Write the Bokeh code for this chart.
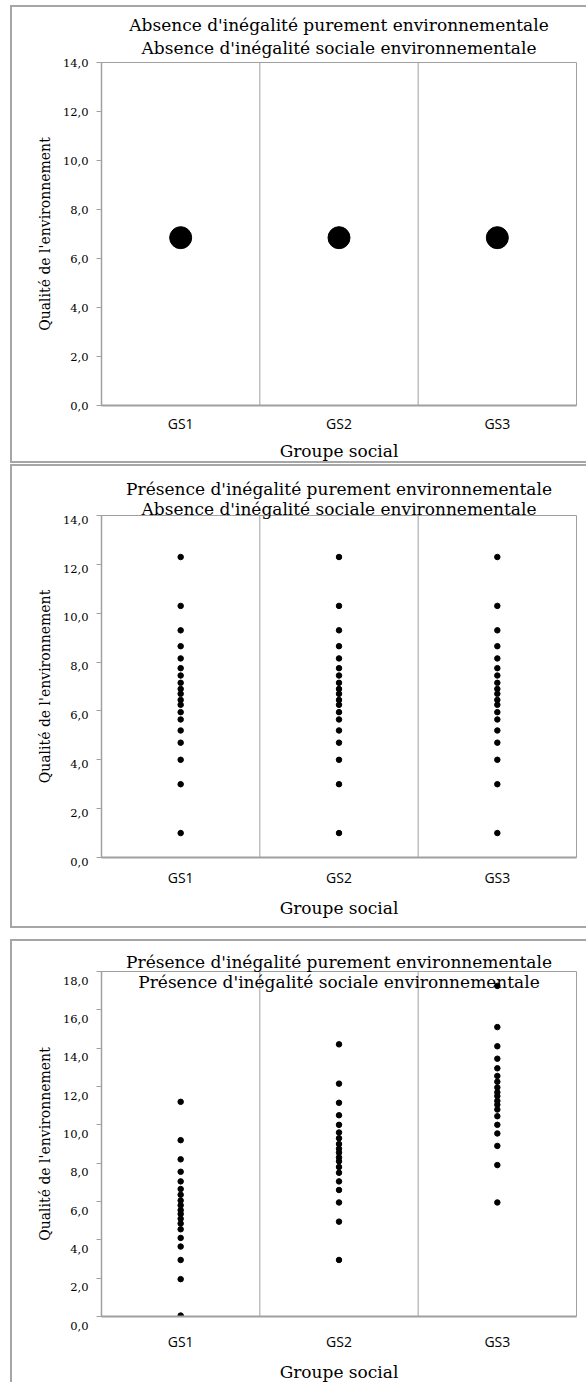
from bokeh.plotting import figure
from bokeh.layouts import column, row
from bokeh.models import FactorRange, Range1d, Span, Title, Label, FixedTicker, CustomJSTickFormatter, ColumnDataSource, Spacer
from bokeh.embed import file_html
from bokeh.resources import INLINE

groups = ["GS1", "GS2", "GS3"]

title_1 = ["Absence d'inégalité purement environnementale", "Absence d'inégalité sociale environnementale"]
title_2 = ["Présence d'inégalité purement environnementale", "Absence d'inégalité sociale environnementale"]
title_3 = ["Présence d'inégalité purement environnementale", "Présence d'inégalité sociale environnementale"]
y_title = "Qualité de l'environnement"
x_title = "Groupe social"

# Panel 1: one value per group
p1_values = [6.85, 6.85, 6.85]

# Panel 2: same spread in every group
p2_gs1 = [12.3, 10.3, 9.3, 8.65, 8.15, 7.75, 7.45, 7.15, 6.9, 6.7, 6.45, 6.25, 5.95, 5.65, 5.2, 4.7, 4.0, 3.0, 1.0]
p2_gs2 = [12.3, 10.3, 9.3, 8.65, 8.15, 7.75, 7.45, 7.15, 6.9, 6.7, 6.45, 6.25, 5.95, 5.65, 5.2, 4.7, 4.0, 3.0, 1.0]
p2_gs3 = [12.3, 10.3, 9.3, 8.65, 8.15, 7.75, 7.45, 7.15, 6.9, 6.7, 6.45, 6.25, 5.95, 5.65, 5.2, 4.7, 4.0, 3.0, 1.0]

# Panel 3: spread shifted by group
p3_gs1 = [11.2, 9.2, 8.2, 7.55, 7.05, 6.65, 6.35, 6.05, 5.8, 5.55, 5.35, 5.1, 4.85, 4.55, 4.1, 3.65, 2.95, 1.95, 0.05]
p3_gs2 = [14.2, 12.15, 11.15, 10.5, 10.0, 9.6, 9.3, 9.0, 8.75, 8.55, 8.3, 8.1, 7.8, 7.5, 7.05, 6.6, 5.95, 4.95, 2.95]
p3_gs3 = [17.25, 15.1, 14.1, 13.45, 12.95, 12.55, 12.25, 11.95, 11.7, 11.5, 11.25, 11.05, 10.8, 10.45, 10.0, 9.55, 8.9, 7.9, 5.95]

y_ticks_a = [0, 2, 4, 6, 8, 10, 12, 14]
y_ticks_b = [0, 2, 4, 6, 8, 10, 12, 14, 16, 18]

GRAY = "#a0a0a0"
BOX = "#a6a6a6"
SERIF = "DejaVu Serif"


def panel(titles, series, y_max, ticks, height, mb_top, mb_bottom, dot_size,
          standoffs, gs_standoff, lab_standoff, label_shift, bottom_border=True,
          inner_second_line=None):
    p = figure(width=576, height=height, x_range=FactorRange(*groups), title=None,
               y_range=Range1d(0, y_max), output_backend="svg", toolbar_location=None,
               min_border_left=89, min_border_right=12, min_border_top=mb_top,
               min_border_bottom=mb_bottom)
    borders = {"border-left": "2px solid " + BOX, "border-top": "2px solid " + BOX}
    if bottom_border:
        borders["border-bottom"] = "2px solid " + BOX
    p.styles = borders
    p.outline_line_color = GRAY
    p.outline_line_width = 1
    p.background_fill_color = "white"
    p.border_fill_color = "white"
    p.xgrid.visible = False
    p.ygrid.visible = False

    for loc in (1, 2):
        p.add_layout(Span(location=loc, dimension="height", line_color=GRAY, line_width=1))

    for g, vals in zip(groups, series):
        src = ColumnDataSource(dict(x=[g] * len(vals), y=vals))
        p.scatter("x", "y", source=src, size=dot_size, color="black")

    # y axis
    ya = p.yaxis[0]
    ya.ticker = FixedTicker(ticks=ticks)
    if label_shift is None:
        ya.formatter = CustomJSTickFormatter(code="return tick.toFixed(1).replace('.', ',');")
    else:
        ya.formatter = CustomJSTickFormatter(code="return '\\u00a0\\n' + tick.toFixed(1).replace('.', ',');")
        ya.major_label_text_line_height = label_shift
    ya.axis_line_color = GRAY
    ya.axis_line_width = 1.5
    ya.major_tick_line_color = GRAY
    ya.major_tick_out = 5
    ya.major_tick_in = 0
    ya.minor_tick_line_color = None
    ya.major_label_standoff = 8
    ya.major_label_text_font = SERIF
    ya.major_label_text_font_size = "11.5px"
    ya.major_label_text_color = "black"
    ya.axis_label = y_title
    ya.axis_label_text_font = SERIF
    ya.axis_label_text_font_size = "14px"
    ya.axis_label_text_font_style = "normal"
    ya.axis_label_text_color = "black"
    ya.axis_label_standoff = 7

    # x axis
    xa = p.xaxis[0]
    xa.axis_line_color = GRAY
    xa.axis_line_width = 2
    xa.major_tick_line_color = None
    xa.major_tick_out = 0
    xa.major_tick_in = 0
    xa.minor_tick_line_color = None
    xa.major_label_standoff = gs_standoff
    xa.major_label_text_font = "Open Sans"
    xa.major_label_text_font_size = "14px"
    xa.major_label_text_color = "black"
    xa.axis_label = x_title
    xa.axis_label_text_font = SERIF
    xa.axis_label_text_font_size = "17px"
    xa.axis_label_text_font_style = "normal"
    xa.axis_label_text_color = "black"
    xa.axis_label_standoff = lab_standoff

    if inner_second_line is not None:
        # first line above the frame, second line drawn just inside the frame top
        p.add_layout(Title(text=titles[0], align="center", standoff=standoffs[0], text_font=SERIF,
                           text_font_size="17px", text_font_style="normal",
                           text_color="black"), "above")
        frame_h = height - 2 - mb_top - mb_bottom
        p.add_layout(Label(x=1.5, y=y_max - inner_second_line * y_max / frame_h,
                           text=titles[1], text_align="center", text_baseline="middle",
                           text_font=SERIF, text_font_size="17px", text_color="black"))
    else:
        # two-line title: second line nearest to the frame
        for txt, so in zip(reversed(titles), reversed(standoffs)):
            p.add_layout(Title(text=txt, align="center", standoff=so, text_font=SERIF,
                               text_font_size="17px", text_font_style="normal",
                               text_color="black"), "above")
    return p


p1 = panel(title_1, [[v] for v in p1_values], 14, y_ticks_a, 458, 55, 60, 22,
           [-7, 9], 8, 5, None)
p2 = panel(title_2, [p2_gs1, p2_gs2, p2_gs3], 14, y_ticks_a, 464, 49, 73, 5.5,
           [2, -6], 10, 8, 0.6)
p3 = panel(title_3, [p3_gs1, p3_gs2, p3_gs3], 18, y_ticks_b, 443, 30, 63, 5.5,
           [-1], 15, 8, 1.3, bottom_border=False, inner_second_line=11)

layout = row(Spacer(width=10),
             column(Spacer(height=5), p1, Spacer(height=1), p2, Spacer(height=11), p3, spacing=0),
             spacing=0)

open("out.html", "w").write(file_html(layout, INLINE))
